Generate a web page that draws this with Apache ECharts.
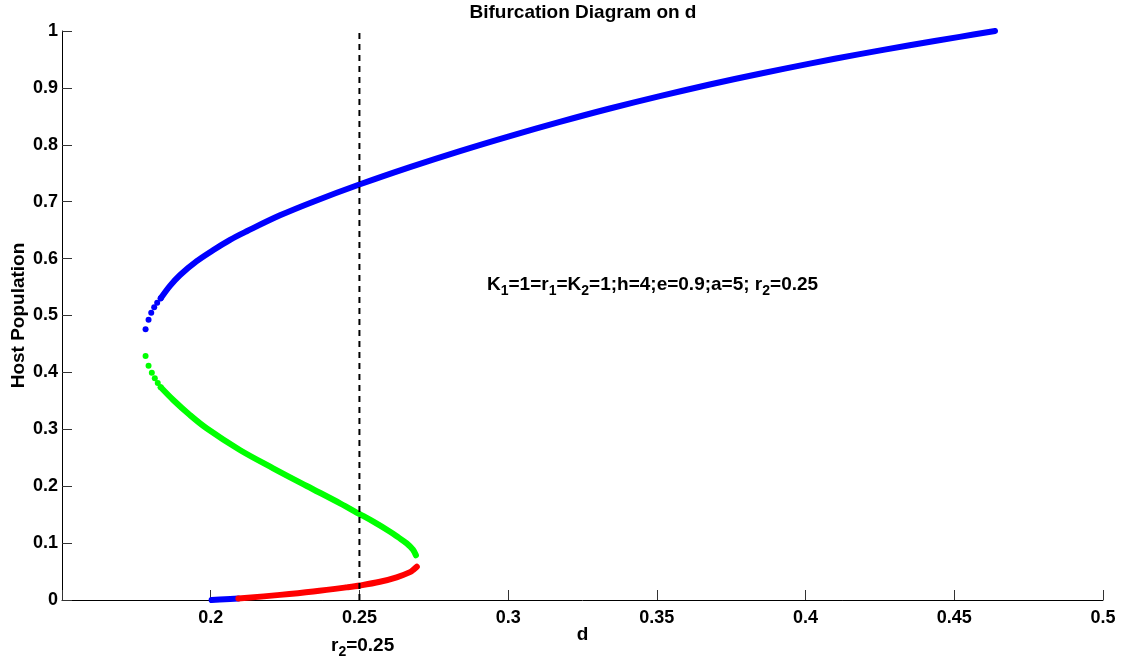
<!DOCTYPE html>
<html>
<head>
<meta charset="utf-8">
<script src="https://cdn.jsdelivr.net/npm/echarts@6/dist/echarts.min.js"></script>
<style>
html,body{margin:0;padding:0;background:#fff;}
#chart{width:1129px;height:664px;}
</style>
</head>
<body>
<div id="chart"></div>
<script>
// ---- data ----
const xTickLabels = ['', '0.2', '0.25', '0.3', '0.35', '0.4', '0.45', '0.5'];
const yTickLabels = ['0', '0.1', '0.2', '0.3', '0.4', '0.5', '0.6', '0.7', '0.8', '0.9', '1'];

// upper stable branch (blue): sparse dots near the fold, then dense curve
const upperFoldD = [0.1781, 0.1791, 0.1800, 0.1810, 0.1820, 0.1832];
const upperFoldH = [0.4757, 0.4926, 0.5049, 0.5144, 0.5225, 0.5302];
const upperD = [0.1832, 0.1863, 0.1897, 0.1953, 0.2009, 0.2065, 0.2121, 0.2233, 0.2345, 0.2502, 0.2670, 0.2838, 0.3006, 0.3174, 0.3342, 0.3510, 0.3678, 0.3846, 0.4014, 0.4182, 0.4350, 0.4518, 0.4637];
const upperH = [0.5302, 0.5520, 0.5712, 0.5955, 0.6151, 0.6330, 0.6480, 0.6760, 0.7000, 0.7306, 0.7608, 0.7890, 0.8154, 0.8403, 0.8638, 0.8856, 0.9059, 0.9249, 0.9427, 0.9593, 0.9749, 0.9897, 1.0000];

// middle unstable branch (green)
const middleFoldD = [0.1781, 0.1791, 0.1802, 0.1812, 0.1822, 0.1832];
const middleFoldH = [0.4288, 0.4118, 0.3995, 0.3896, 0.3814, 0.3738];
const middleD = [0.1832, 0.1874, 0.1930, 0.1986, 0.2098, 0.2210, 0.2323, 0.2435, 0.2499, 0.2547, 0.2603, 0.2631, 0.2659, 0.2680, 0.2690];
const middleH = [0.3738, 0.3515, 0.3251, 0.3018, 0.2636, 0.2315, 0.2004, 0.1699, 0.1515, 0.1376, 0.1200, 0.1100, 0.0996, 0.0885, 0.0786];

// lower branch: stable part (blue) and unstable part (red)
const lowerStableD = [0.2003, 0.2048, 0.2093];
const lowerStableH = [0.0000, 0.0012, 0.0025];
const lowerUnstableD = [0.2093, 0.2233, 0.2345, 0.2457, 0.2502, 0.2569, 0.2625, 0.2670, 0.2682, 0.2693];
const lowerUnstableH = [0.0025, 0.0090, 0.0150, 0.0222, 0.0255, 0.0320, 0.0398, 0.0490, 0.0535, 0.0585];

// vertical reference line at r2
const r2Line = 0.25;
const r2LineH = [0, 1];

// ---- helpers ----
const zip = (a, b) => a.map((v, i) => [v, b[i]]);
const FONT = 'Liberation Sans, Arial, Helvetica, sans-serif';
const BLUE = '#0000ff', GREEN = '#00ff00', RED = '#ff0000';

function curve(d, h, color) {
  return {
    type: 'line', data: zip(d, h), smooth: 0.35,
    showSymbol: false, symbol: 'none',
    lineStyle: { color: color, width: 6, cap: 'round', join: 'round' },
    z: 3, silent: true
  };
}
function dots(d, h, color) {
  return {
    type: 'scatter', data: zip(d, h), symbol: 'circle', symbolSize: 6,
    itemStyle: { color: color, opacity: 1 }, z: 3, silent: true
  };
}

const chart = echarts.init(document.getElementById('chart'), null, { renderer: 'canvas' });

const option = {
  animation: false,
  backgroundColor: '#ffffff',
  grid: { left: 62, right: 26, top: 31, bottom: 64, containLabel: false, outerBoundsMode: 'none' },
  xAxis: {
    type: 'value', min: 0.15, max: 0.5, interval: 0.05,
    name: 'd', nameLocation: 'middle', nameGap: 25, nameMoveOverlap: false,
    nameTextStyle: { fontSize: 19, fontWeight: 'bold', color: '#000', fontFamily: FONT },
    axisLine: { show: true, onZero: false, lineStyle: { color: '#000', width: 1 } },
    axisTick: { show: true, inside: true, length: 10, lineStyle: { color: '#333', width: 1 } },
    axisLabel: {
      fontSize: 18, fontWeight: 'bold', color: '#000', fontFamily: FONT, margin: 9,
      showMinLabel: true, showMaxLabel: true, hideOverlap: false,
      formatter: (v, i) => xTickLabels[i] !== undefined ? xTickLabels[i] : ''
    },
    splitLine: { show: false }
  },
  yAxis: {
    type: 'value', min: 0, max: 1, interval: 0.1,
    name: 'Host Population', nameLocation: 'middle', nameGap: 34, nameMoveOverlap: false,
    nameTextStyle: { fontSize: 19, fontWeight: 'bold', color: '#000', fontFamily: FONT },
    axisLine: { show: true, onZero: false, lineStyle: { color: '#000', width: 1 } },
    axisTick: { show: true, inside: true, length: 10, lineStyle: { color: '#333', width: 1 } },
    axisLabel: {
      fontSize: 18, fontWeight: 'bold', color: '#000', fontFamily: FONT, margin: 4,
      showMinLabel: true, showMaxLabel: true, hideOverlap: false,
      formatter: (v, i) => yTickLabels[i] !== undefined ? yTickLabels[i] : ''
    },
    splitLine: { show: false }
  },
  series: [
    curve(upperD, upperH, BLUE),
    dots(upperFoldD, upperFoldH, BLUE),
    curve(middleD, middleH, GREEN),
    dots(middleFoldD, middleFoldH, GREEN),
    curve(lowerStableD, lowerStableH, BLUE),
    curve(lowerUnstableD, lowerUnstableH, RED),
    {
      type: 'line', data: r2LineH.map(h => [r2Line, h]), showSymbol: false, symbol: 'none',
      lineStyle: { color: '#000', width: 2, type: [6, 5] }, z: 5, silent: true
    }
  ],
  graphic: [
    {
      type: 'text', x: 583, y: 3, silent: true,
      style: {
        text: 'Bifurcation Diagram on d', fill: '#000',
        font: 'bold 19px ' + FONT, align: 'center', verticalAlign: 'top',
        textAlign: 'center', textVerticalAlign: 'top'
      }
    },
    {
      type: 'text', x: 487, y: 270, silent: true,
      style: {
        text: '{m|K}{s|1}{m|=1=r}{s|1}{m|=K}{s|2}{m|=1;h=4;e=0.9;a=5; r}{s|2}{m|=0.25}',
        rich: {
          m: { fontSize: 19, fontWeight: 'bold', fontFamily: FONT, fill: '#000', lineHeight: 30 },
          s: { fontSize: 14, fontWeight: 'bold', fontFamily: FONT, fill: '#000', lineHeight: 18, padding: [12, 0, 0, 0] }
        }
      }
    },
    {
      type: 'text', x: 331, y: 631, silent: true,
      style: {
        text: '{m|r}{s|2}{m|=0.25}',
        rich: {
          m: { fontSize: 19, fontWeight: 'bold', fontFamily: FONT, fill: '#000', lineHeight: 30 },
          s: { fontSize: 14, fontWeight: 'bold', fontFamily: FONT, fill: '#000', lineHeight: 18, padding: [12, 0, 0, 0] }
        }
      }
    }
  ]
};

chart.setOption(option);
</script>
</body>
</html>
